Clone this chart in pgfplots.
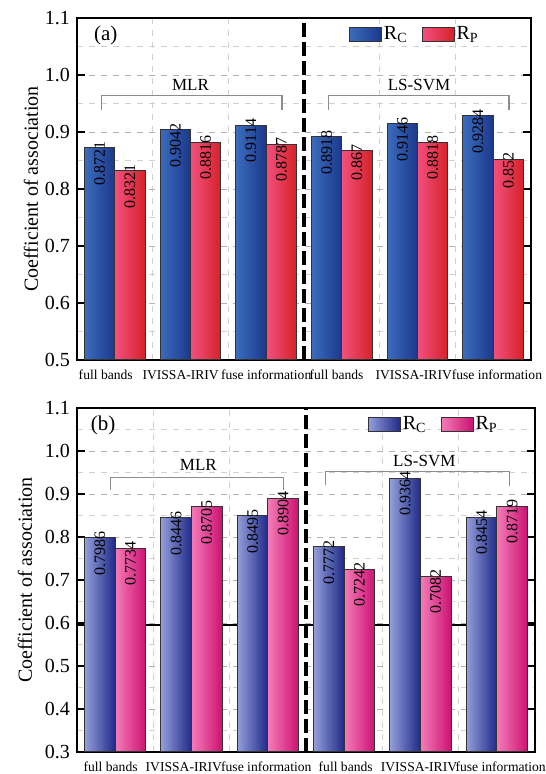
\documentclass[border=0pt]{standalone}
\usepackage{fontspec}
\setmainfont{Liberation Serif}
\usepackage{pgfplots}
\usepackage{pgfplotstable}
\pgfplotsset{compat=1.18}

\definecolor{blueL}{HTML}{3C6CBC}
\definecolor{blueM}{HTML}{2A4FA6}
\definecolor{blueR}{HTML}{1B388C}
\definecolor{redL}{HTML}{F2507E}
\definecolor{redM}{HTML}{EA1E52}
\definecolor{redR}{HTML}{D62228}
\definecolor{bblueL}{HTML}{949EDA}
\definecolor{bblueM}{HTML}{4250AC}
\definecolor{bblueR}{HTML}{1E2A88}
\definecolor{pinkL}{HTML}{F47CB8}
\definecolor{pinkM}{HTML}{E6128C}
\definecolor{pinkR}{HTML}{CC1272}

\pgfplotstableread{
x rc rp
0 0.8721 0.8321
1 0.9042 0.8816
2 0.9114 0.8787
3 0.8918 0.867
4 0.9146 0.8818
5 0.9284 0.852
}\dataA
\pgfplotstableread{
x rc rp
0 0.7986 0.7734
1 0.8446 0.8705
2 0.8495 0.8904
3 0.7772 0.7242
4 0.9364 0.7082
5 0.8454 0.8719
}\dataB

\pgfplotsset{
  panel/.style={
    scale only axis,
    xmin=-0.5, xmax=5.5,
    xticklabels={full bands, IVISSA-IRIV, fuse information, full bands, IVISSA-IRIV, fuse information},
    xticklabel style={font=\fontsize{6.8}{8}\selectfont, yshift=-1.5pt},
    x tick style={draw=none},
    minor xtick={0.5,1.5,3.5,4.5},
    xminorgrids,
    ymajorgrids, yminorgrids, minor y tick num=1,
    major grid style={dashed, black!30, line width=0.4pt},
    minor grid style={dashed, black!18, line width=0.4pt},
    ytick distance=0.1,
    yticklabel style={/pgf/number format/fixed, /pgf/number format/fixed zerofill, /pgf/number format/precision=1, font=\fontsize{10}{11}\selectfont},
    /pgf/number format/assume math mode=true,
    tick align=inside,
    major tick length=4pt, minor tick length=0pt,
    y tick style={black, line width=0.6pt},
    axis line style={line width=0.9pt},
    ylabel={Coefficient of association},
    legend style={draw=none, fill=none, font=\fontsize{10}{12}\selectfont, anchor=north west, inner sep=0pt, outer sep=0pt,
      nodes={inner sep=1pt},
      /tikz/every even column/.append style={column sep=6pt}},
    legend columns=2,
  },
  boxlegend/.style={legend image code/.code={\draw[##1] (0pt,-3.6pt) rectangle (16pt,3.6pt);}},
  onebar/.style={forget plot, restrict expr to domain={\coordindex}{#1:#1}},
  vals/.style={draw=none, mark=none, forget plot,
    nodes near coords={\pgfmathprintnumber[fixed,precision=4]{\pgfplotspointmeta}},
    point meta=y,
    every node near coord/.append style={font=\fontsize{8}{9}\selectfont, text=black, yshift=3.5pt, rotate=90, anchor=east, inner sep=0pt}},
  barA/.style={ybar, bar width=0.4, draw=black!80, line width=0.5pt},
  stA/.style={left color=blueL, middle color=blueM, right color=blueR},
  stB/.style={left color=redL, middle color=redM, right color=redR},
  stC/.style={left color=bblueL, middle color=bblueM, right color=bblueR},
  stD/.style={left color=pinkL, middle color=pinkM, right color=pinkR},
}

\begin{document}
\begin{tikzpicture}
% ---------------- panel (a)
\begin{axis}[panel, at={(38.5pt,207pt)}, anchor=south west,
  width=227pt, height=171pt, ymin=0.5, ymax=1.1,
  xtick={-0.12,0.87,2.0,2.93,3.95,5.05},
  every axis y label/.style={at={(axis description cs:0,0.5)}, xshift=-23pt, rotate=90, anchor=center, font=\fontsize{10}{12}\selectfont},
  legend style={at={(0.599,0.981)}}]
\addlegendimage{boxlegend, stA, draw=black!80, line width=0.5pt}
\addlegendentry{R\textsubscript{C}}
\addlegendimage{boxlegend, stB, draw=black!80, line width=0.5pt}
\addlegendentry{R\textsubscript{P}}
\pgfplotsinvokeforeach{0,...,5}{
\addplot[barA, bar shift=-0.2, stA, onebar=#1] table[x=x, y=rc] {\dataA};
\addplot[barA, bar shift=0.2, stB, onebar=#1] table[x=x, y=rp] {\dataA};
}
\addplot[vals] table[x expr=\thisrow{x}-0.2, y=rc] {\dataA};
\addplot[vals] table[x expr=\thisrow{x}+0.2, y=rp] {\dataA};
\addplot[black, line width=1.6pt, dash pattern=on 7pt off 2.5pt, forget plot] coordinates {(2.5,0.5) (2.5,1.1)};
\addplot[black!45, line width=0.6pt, forget plot] coordinates {(-0.18,0.939) (-0.18,0.964) (2.21,0.964) (2.21,0.939)};
\addplot[black!45, line width=0.6pt, forget plot] coordinates {(2.82,0.939) (2.82,0.964) (5.21,0.964) (5.21,0.939)};
\node[font=\fontsize{8.5}{10}\selectfont] at (axis cs:1.0,0.983) {MLR};
\node[font=\fontsize{8.5}{10}\selectfont] at (axis cs:4.02,0.983) {LS-SVM};
\node[anchor=west, font=\fontsize{10.5}{12}\selectfont] at (axis description cs:0.022,0.95) {(a)};
\end{axis}
% ---------------- panel (b)
\begin{axis}[panel, at={(38.5pt,11pt)}, anchor=south west,
  width=229pt, height=172pt, ymin=0.3, ymax=1.1,
  xtick={-0.06,0.9,1.98,3.02,3.98,5.05},
  every axis y label/.style={at={(axis description cs:0,0.5)}, xshift=-26pt, rotate=90, anchor=center, font=\fontsize{10}{12}\selectfont},
  legend style={at={(0.635,0.981)}}]
\addlegendimage{boxlegend, stC, draw=black!80, line width=0.5pt}
\addlegendentry{R\textsubscript{C}}
\addlegendimage{boxlegend, stD, draw=black!80, line width=0.5pt}
\addlegendentry{R\textsubscript{P}}
\addplot[black, line width=0.8pt, forget plot] coordinates {(-0.5,0.596) (5.5,0.596)};
\pgfplotsinvokeforeach{0,...,5}{
\addplot[barA, bar shift=-0.2, stC, onebar=#1] table[x=x, y=rc] {\dataB};
\addplot[barA, bar shift=0.2, stD, onebar=#1] table[x=x, y=rp] {\dataB};
}
\addplot[vals] table[x expr=\thisrow{x}-0.2, y=rc] {\dataB};
\addplot[vals] table[x expr=\thisrow{x}+0.2, y=rp] {\dataB};
\addplot[black, line width=1.6pt, dash pattern=on 7pt off 2.5pt, forget plot] coordinates {(2.5,0.3) (2.5,1.1)};
\addplot[black!45, line width=0.6pt, forget plot] coordinates {(-0.06,0.909) (-0.06,0.938) (2.21,0.938) (2.21,0.909)};
\addplot[black!45, line width=0.6pt, forget plot] coordinates {(2.76,0.921) (2.76,0.953) (5.17,0.953) (5.17,0.918)};
\node[font=\fontsize{8.5}{10}\selectfont] at (axis cs:1.09,0.968) {MLR};
\node[font=\fontsize{8.5}{10}\selectfont] at (axis cs:4.05,0.976) {LS-SVM};
\node[anchor=west, font=\fontsize{10.5}{12}\selectfont] at (axis description cs:0.015,0.95) {(b)};
\end{axis}
\pgfresetboundingbox
\useasboundingbox (0,0) rectangle (272.5pt,387pt);
\end{tikzpicture}
\end{document}
